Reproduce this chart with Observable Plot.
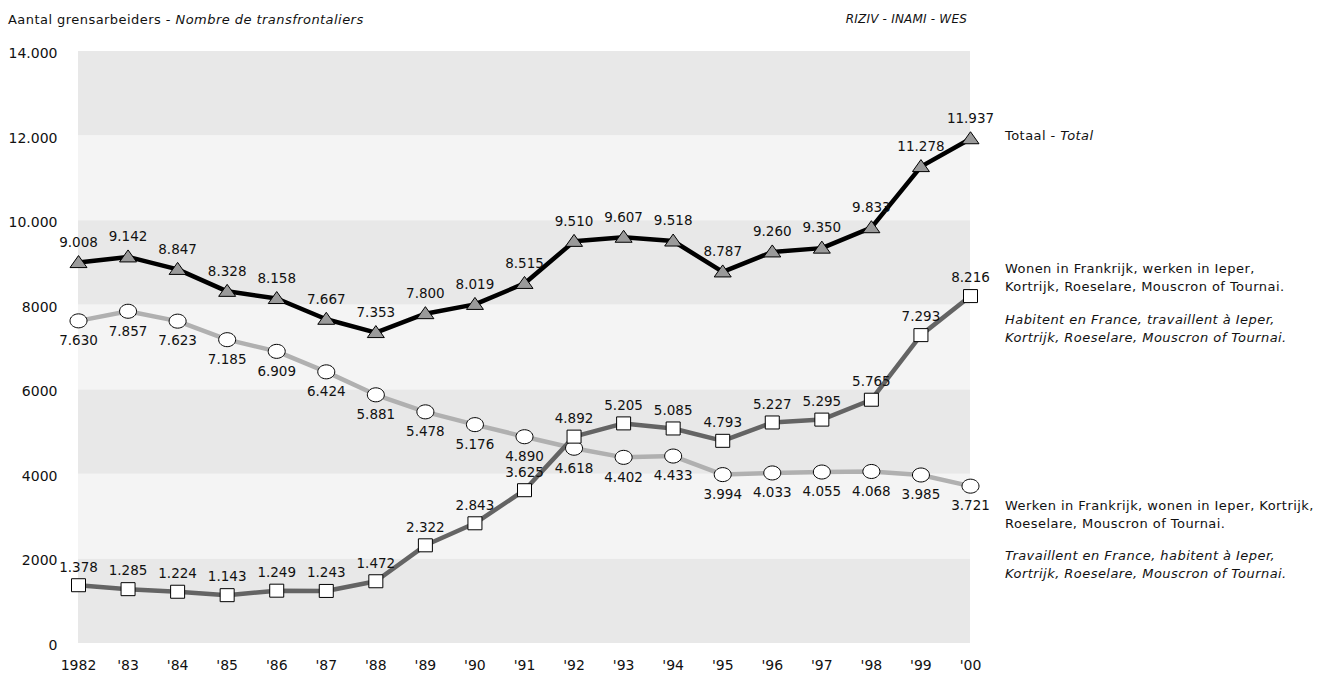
<!DOCTYPE html>
<html>
<head>
<meta charset="utf-8">
<script src="https://cdn.jsdelivr.net/npm/d3@7"></script>
<script src="https://cdn.jsdelivr.net/npm/@observablehq/plot@0.6"></script>
<style>
  body { margin: 0; background: #fff; }
  #chart svg { display: block; }
</style>
</head>
<body>
<div id="chart"></div>
<script>
// Grensarbeiders tussen Frankrijk en de regio Ieper-Kortrijk-Roeselare-Mouscron-Tournai
const years = [1982, 1983, 1984, 1985, 1986, 1987, 1988, 1989, 1990, 1991,
               1992, 1993, 1994, 1995, 1996, 1997, 1998, 1999, 2000];
const yearLabels = ["1982", "'83", "'84", "'85", "'86", "'87", "'88", "'89", "'90", "'91",
                    "'92", "'93", "'94", "'95", "'96", "'97", "'98", "'99", "'00"];

// Totaal - Total
const totaal = [9008, 9142, 8847, 8328, 8158, 7667, 7353, 7800, 8019, 8515,
                9510, 9607, 9518, 8787, 9260, 9350, 9833, 11278, 11937];
// Wonen in Frankrijk, werken in Ieper, Kortrijk, Roeselare, Mouscron of Tournai
const wonenInFrankrijk = [1378, 1285, 1224, 1143, 1249, 1243, 1472, 2322, 2843, 3625,
                          4892, 5205, 5085, 4793, 5227, 5295, 5765, 7293, 8216];
// Werken in Frankrijk, wonen in Ieper, Kortrijk, Roeselare, Mouscron of Tournai
const werkenInFrankrijk = [7630, 7857, 7623, 7185, 6909, 6424, 5881, 5478, 5176, 4890,
                           4618, 4402, 4433, 3994, 4033, 4055, 4068, 3985, 3721];

const yTicks = [0, 2000, 4000, 6000, 8000, 10000, 12000, 14000];

const nl = d3.formatLocale({decimal: ",", thousands: ".", grouping: [3]});
const fmtValue = nl.format(",d");
const fmtTick = v => (v >= 10000 ? fmtValue(v) : String(v));

const rows = values => years.map((year, i) => ({year, value: values[i]}));
const totalRows = rows(totaal);
const wonenRows = rows(wonenInFrankrijk);
const werkenRows = rows(werkenInFrankrijk);

// alternating horizontal bands between consecutive y ticks
const bands = yTicks.slice(0, -1).map((lo, i) => ({lo, hi: yTicks[i + 1], even: i % 2 === 0}));

// marker shapes
const triangle = {draw(ctx) { ctx.moveTo(0, -7); ctx.lineTo(8.5, 5); ctx.lineTo(-8.5, 5); ctx.closePath(); }};
const square = {draw(ctx) { ctx.rect(-7, -6.5, 14, 13); }};
const ellipse = {draw(ctx) {
  const rx = 8.5, ry = 7, k = 0.5523;
  ctx.moveTo(rx, 0);
  ctx.bezierCurveTo(rx, ry * k, rx * k, ry, 0, ry);
  ctx.bezierCurveTo(-rx * k, ry, -rx, ry * k, -rx, 0);
  ctx.bezierCurveTo(-rx, -ry * k, -rx * k, -ry, 0, -ry);
  ctx.bezierCurveTo(rx * k, -ry, rx, -ry * k, rx, 0);
  ctx.closePath();
}};

const FONT = "Verdana, 'DejaVu Sans', sans-serif";

const plot = Plot.plot({
  width: 1328,
  height: 675,
  marginLeft: 78,
  marginRight: 358,
  marginTop: 51,
  marginBottom: 32,
  x: {domain: [1982, 2000], label: null},
  y: {domain: [0, 14000], label: null},
  style: {fontFamily: FONT, fontSize: "14px", color: "#111", background: "#fff", overflow: "visible"},
  marks: [
    Plot.rect(bands.filter(d => d.even), {y1: "lo", y2: "hi", fill: "#e8e8e8"}),
    Plot.rect(bands.filter(d => !d.even), {y1: "lo", y2: "hi", fill: "#f4f4f4"}),
    Plot.axisY({ticks: yTicks, tickFormat: fmtTick, tickSize: 0, tickPadding: 21, dy: 2, fontSize: 14, label: null}),
    Plot.axisX({ticks: years, tickFormat: d => yearLabels[years.indexOf(d)], tickSize: 0, tickPadding: 17, fontSize: 14, label: null}),

    Plot.line(werkenRows, {x: "year", y: "value", stroke: "#b0b0b0", strokeWidth: 4.5}),
    Plot.line(wonenRows, {x: "year", y: "value", stroke: "#646464", strokeWidth: 4.5}),
    Plot.line(totalRows, {x: "year", y: "value", stroke: "#000", strokeWidth: 4.5}),

    Plot.dot(werkenRows, {x: "year", y: "value", symbol: ellipse, fill: "#fff", stroke: "#000", strokeWidth: 1}),
    Plot.dot(wonenRows, {x: "year", y: "value", symbol: square, fill: "#fff", stroke: "#000", strokeWidth: 1}),
    Plot.dot(totalRows, {x: "year", y: "value", symbol: triangle, fill: "#9a9a9a", stroke: "#000", strokeWidth: 1}),

    Plot.text(werkenRows, {x: "year", y: "value", text: d => fmtValue(d.value), dy: 20, fontSize: 13.5, fill: "#111"}),
    Plot.text(wonenRows, {x: "year", y: "value", text: d => fmtValue(d.value), dy: -18, fontSize: 13.5, fill: "#111"}),
    Plot.text(totalRows, {x: "year", y: "value", text: d => fmtValue(d.value), dy: -20, fontSize: 13.5, fill: "#111"})
  ]
});

document.getElementById("chart").append(plot);

// Title, source and series descriptions
const svg = d3.select(plot);
const notes = svg.append("g")
  .attr("font-family", FONT)
  .attr("font-size", 13)
  .attr("letter-spacing", "0.45px")
  .attr("fill", "#111");

function line(x, y, parts, anchor = "start", size = null) {
  const t = notes.append("text")
    .attr("x", x).attr("y", y)
    .attr("dy", "0.35em")
    .attr("text-anchor", anchor);
  if (size) t.attr("font-size", size).attr("letter-spacing", "0.2px");
  for (const [str, italic] of parts) {
    t.append("tspan").attr("font-style", italic ? "italic" : "normal").text(str);
  }
}

line(8, 19, [["Aantal grensarbeiders - ", false], ["Nombre de transfrontaliers", true]]);
line(967, 19, [["RIZIV - INAMI - WES", true]], "end", 12);

line(1005, 135, [["Totaal - ", false], ["Total", true]]);

line(1005, 268, [["Wonen in Frankrijk, werken in Ieper,", false]]);
line(1005, 286, [["Kortrijk, Roeselare, Mouscron of Tournai.", false]]);
line(1005, 319, [["Habitent en France, travaillent à Ieper,", true]]);
line(1005, 337, [["Kortrijk, Roeselare, Mouscron of Tournai.", true]]);

line(1005, 505, [["Werken in Frankrijk, wonen in Ieper, Kortrijk,", false]]);
line(1005, 523, [["Roeselare, Mouscron of Tournai.", false]]);
line(1005, 555, [["Travaillent en France, habitent à Ieper,", true]]);
line(1005, 573, [["Kortrijk, Roeselare, Mouscron of Tournai.", true]]);
</script>
</body>
</html>
